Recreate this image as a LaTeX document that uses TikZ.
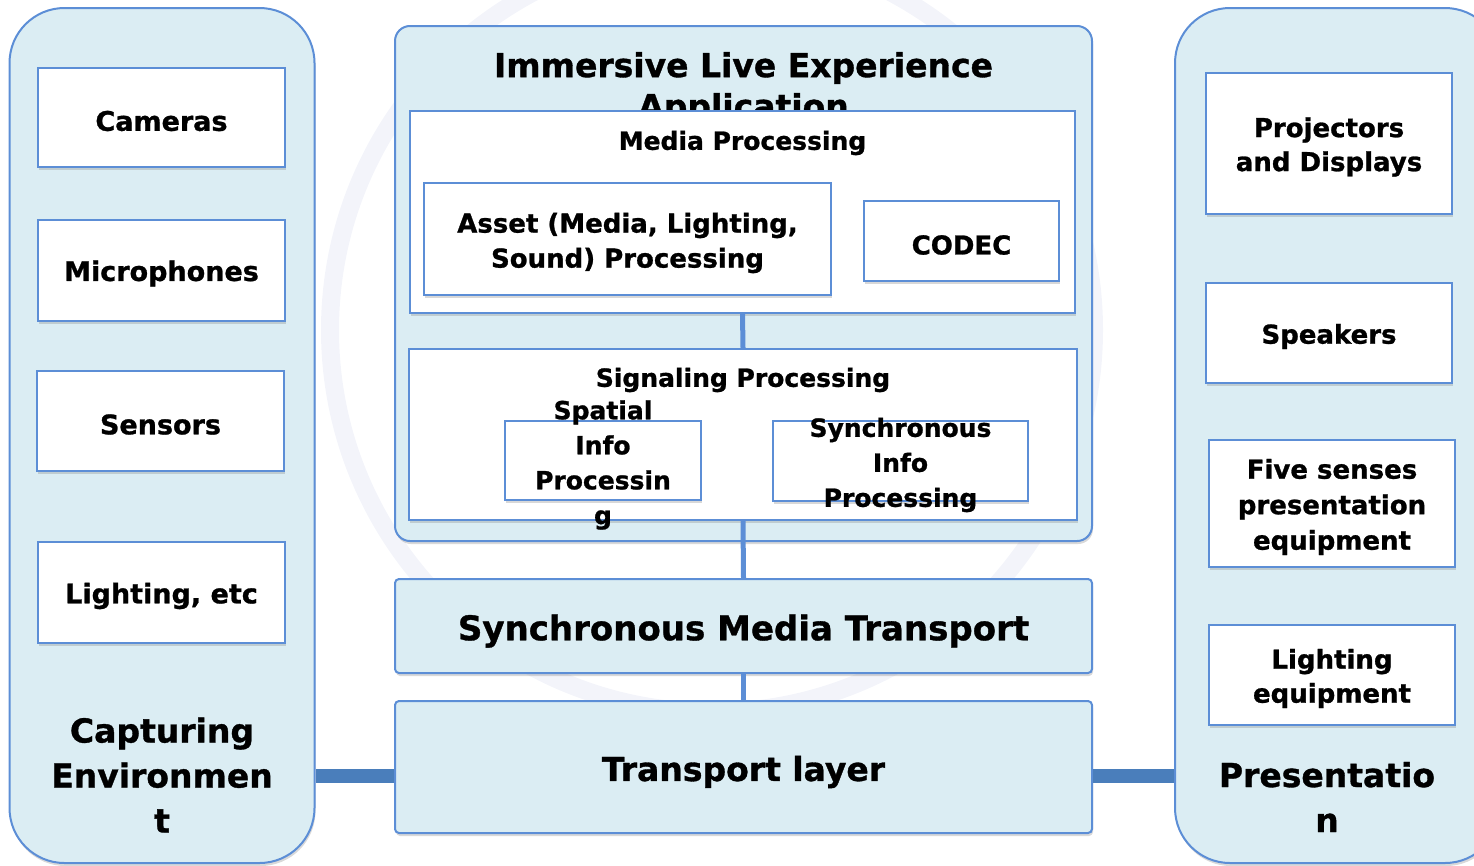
\documentclass[tikz,border=0pt]{standalone}
\usepackage{fontspec}
\setmainfont{DejaVu Sans}[BoldFeatures={FakeBold=1}]
\usepackage{tikz}
\usetikzlibrary{shadows}
\definecolor{paneBg}{RGB}{219, 237, 243}
\definecolor{paneLine}{RGB}{92, 142, 214}
\definecolor{busLine}{RGB}{74, 126, 187}
\definecolor{markBg}{RGB}{243, 244, 250}

\tikzset{
  pane/.style={draw=paneLine, line width=2pt, fill=paneBg, inner sep=0pt,
    drop shadow={opacity=0.3, shadow xshift=1pt, shadow yshift=-3pt}},
  whitebox/.style={draw=paneLine, line width=2pt, fill=white, inner sep=0pt,
    drop shadow={opacity=0.3, shadow xshift=1pt, shadow yshift=-3pt}},
  lbl/.style={align=center, inner sep=0pt},
  boxlbl/.style={lbl, yshift=-3.5pt},
}

\begin{document}
\begin{tikzpicture}[x=1pt, y=-1pt]
  \useasboundingbox (0,0) rectangle (1474,865);
  \clip (0,0) rectangle (1474,865);

  % faint logo behind everything
  \draw[markBg, line width=18pt] (712,330) circle[radius=382];

  % side columns
  \node[pane, rounded corners=55pt, minimum width=305pt, minimum height=855pt]
    (capt) at (162,435.5) {};
  \node[pane, rounded corners=55pt, minimum width=325pt, minimum height=855pt]
    (pres) at (1337.5,435.5) {};

  % capture devices
  \node[whitebox, minimum width=247pt, minimum height=99pt] (cam) at (161.5,117.5) {};
  \node[boxlbl, font=\fontsize{27}{34}\selectfont\bfseries] at (cam) {Cameras};
  \node[whitebox, minimum width=247pt, minimum height=101pt] (mic) at (161.5,270) {};
  \node[boxlbl, font=\fontsize{27}{34}\selectfont\bfseries] at (mic) {Microphones};
  \node[whitebox, minimum width=247pt, minimum height=100pt] (sens) at (160.5,421) {};
  \node[boxlbl, font=\fontsize{27}{34}\selectfont\bfseries] at (sens) {Sensors};
  \node[whitebox, minimum width=247pt, minimum height=101pt] (lgt) at (161.5,592.5) {};
  \node[boxlbl, font=\fontsize{27}{34}\selectfont\bfseries] at (lgt) {Lighting, etc};
  \node[lbl, font=\fontsize{33}{45}\selectfont\bfseries] (captlbl) at (162,775)
    {Capturing\\Environmen\\t};

  % presentation devices
  \node[whitebox, minimum width=246pt, minimum height=141pt] (proj) at (1329,143.5) {};
  \node[boxlbl, font=\fontsize{26}{34}\selectfont\bfseries] at (proj) {Projectors\\and Displays};
  \node[whitebox, minimum width=246pt, minimum height=100pt] (spk) at (1329,333) {};
  \node[boxlbl, font=\fontsize{26}{34}\selectfont\bfseries] at (spk) {Speakers};
  \node[whitebox, minimum width=246pt, minimum height=127pt] (five) at (1332,503.5) {};
  \node[boxlbl, font=\fontsize{26}{35.5}\selectfont\bfseries] at (five)
    {Five senses\\presentation\\equipment};
  \node[whitebox, minimum width=246pt, minimum height=100pt] (lgteq) at (1332,675) {};
  \node[boxlbl, font=\fontsize{26}{34}\selectfont\bfseries] at (lgteq) {Lighting\\equipment};
  \node[lbl, font=\fontsize{33}{45}\selectfont\bfseries] (preslbl) at (1327,797)
    {Presentatio\\n};

  % application block
  \node[pane, rounded corners=15pt, minimum width=697pt, minimum height=515pt]
    (app) at (743.5,283.5) {};
  \node[lbl, font=\fontsize{33}{41}\selectfont\bfseries] (applbl) at (743.5,88.5)
    {Immersive Live Experience\\Application};

  \node[whitebox, minimum width=665pt, minimum height=202pt] (media) at (742.5,212) {};
  \node[lbl, font=\fontsize{25}{30}\selectfont\bfseries] at (742.5,143) {Media Processing};
  \node[whitebox, minimum width=407pt, minimum height=112pt] (asset) at (627.5,239) {};
  \node[lbl, font=\fontsize{26}{35}\selectfont\bfseries] at (627.5,243)
    {Asset (Media, Lighting,\\Sound) Processing};
  \node[whitebox, minimum width=195pt, minimum height=80pt] (codec) at (961.5,241) {};
  \node[lbl, font=\fontsize{26}{35}\selectfont\bfseries] at (961.5,245) {CODEC};

  \node[whitebox, minimum width=668pt, minimum height=171pt] (signal) at (743,434.5) {};
  \node[lbl, font=\fontsize{25}{30}\selectfont\bfseries] at (743,380) {Signaling Processing};
  \node[whitebox, minimum width=196pt, minimum height=79pt] (spatial) at (603,460.5) {};
  \node[lbl, font=\fontsize{25}{35}\selectfont\bfseries] at (603,465)
    {Spatial\\Info\\Processin\\g};
  \node[whitebox, minimum width=255pt, minimum height=80pt] (syncinfo) at (900.5,461) {};
  \node[lbl, font=\fontsize{25}{35}\selectfont\bfseries] at (900.5,465)
    {Synchronous\\Info\\Processing};

  % transport layers
  \node[pane, rounded corners=4pt, minimum width=697pt, minimum height=94pt]
    (smt) at (743.5,626) {};
  \node[lbl, font=\fontsize{34}{42}\selectfont\bfseries] at (743.5,631) {Synchronous Media Transport};
  \node[pane, rounded corners=4pt, minimum width=697pt, minimum height=132pt]
    (tl) at (743.5,767) {};
  \node[lbl, font=\fontsize{33}{42}\selectfont\bfseries] at (743.5,772) {Transport layer};

  % links
  \draw[paneLine, line width=5pt] (media.south) -- (signal.north);
  \draw[paneLine, line width=5pt] (signal.south) -- (smt.north);
  \draw[paneLine, line width=5pt] (smt.south) -- (tl.north);
  \draw[busLine, line width=14pt] ([yshift=-9pt]tl.west) -- ([yshift=-9pt]tl.west -| capt.east);
  \draw[busLine, line width=14pt] ([yshift=-9pt]tl.east) -- ([yshift=-9pt]tl.east -| pres.west);
\end{tikzpicture}
\end{document}
